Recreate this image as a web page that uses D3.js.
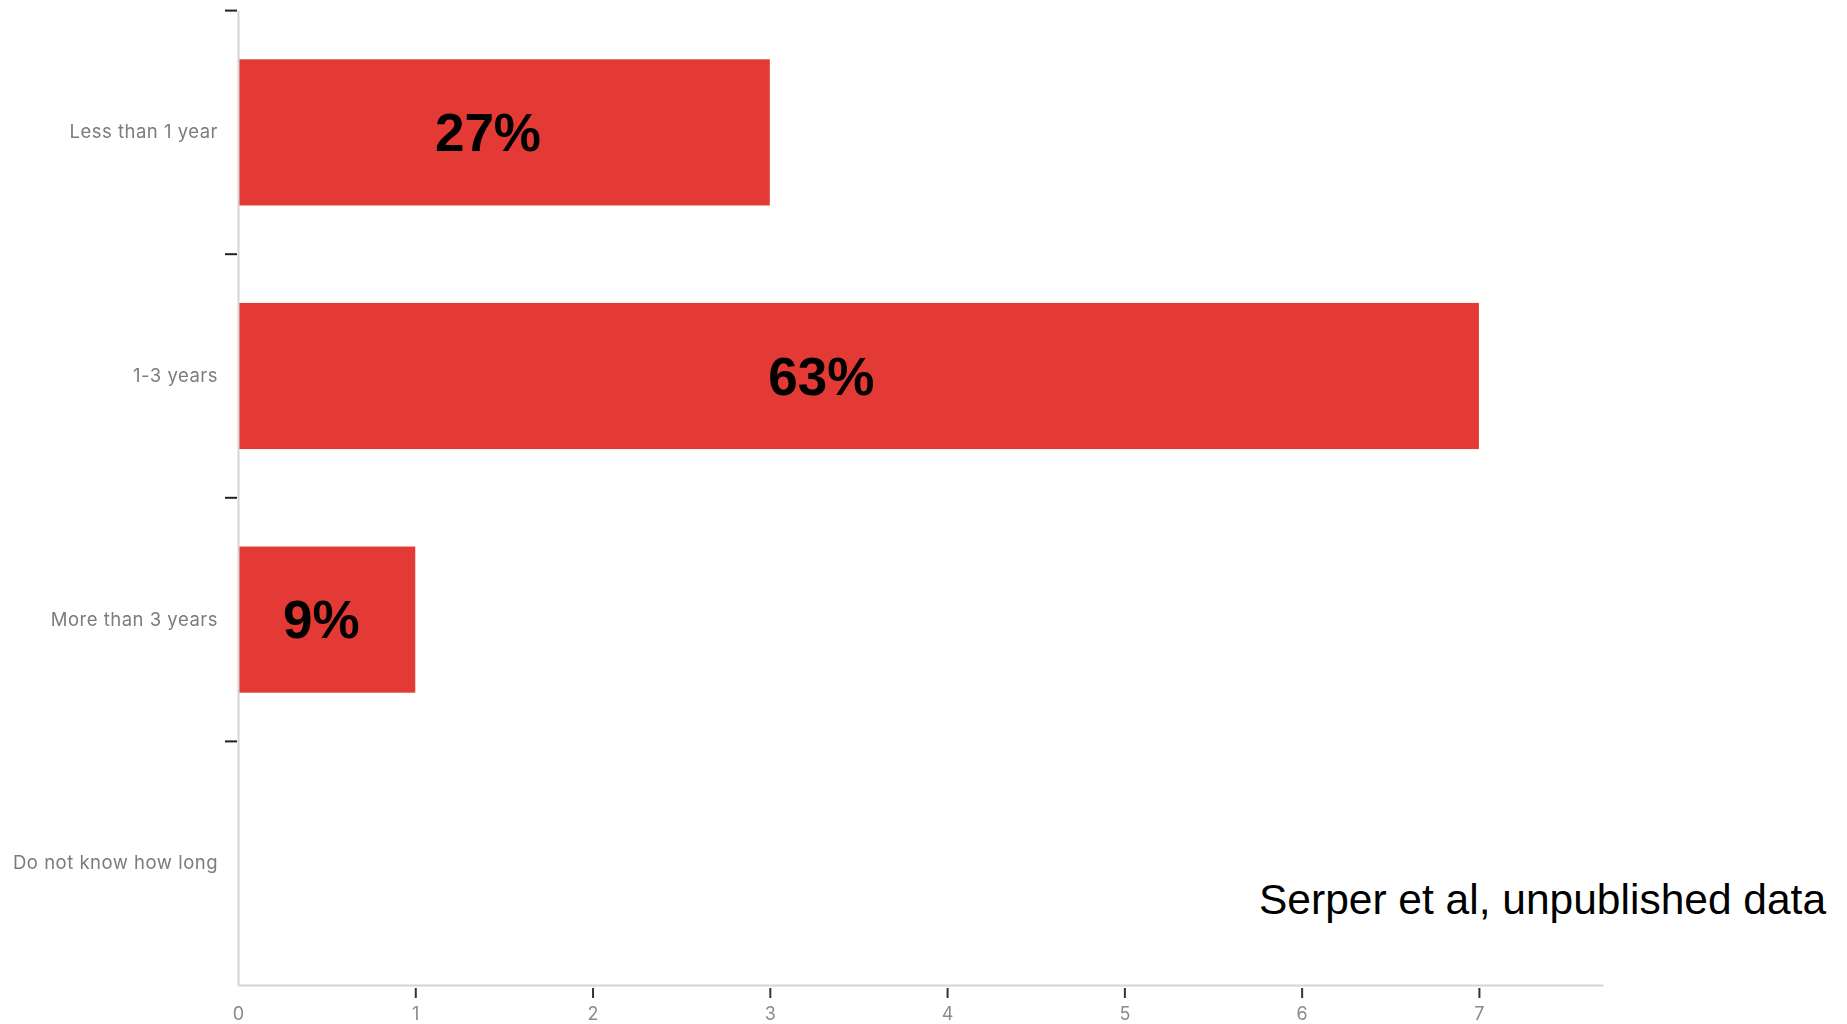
<!DOCTYPE html>
<html>
<head>
<meta charset="utf-8">
<script src="https://cdn.jsdelivr.net/npm/d3@7"></script>
<style>
  html, body { margin: 0; padding: 0; background: #fff; }
  svg { display: block; }
</style>
</head>
<body>
<svg id="chart" width="1847" height="1024"></svg>
<script>
// Survey responses: how long respondents expect (count of 11 responses)
const categories = ["Less than 1 year", "1-3 years", "More than 3 years", "Do not know how long"];
const counts = [3, 7, 1, 0];
const percentLabels = ["27%", "63%", "9%", ""];
const xTicks = [0, 1, 2, 3, 4, 5, 6, 7];
const sourceNote = "Serper et al, unpublished data";

const svg = d3.select("#chart");

const plot = { left: 238, right: 1603, top: 10.6, bottom: 985 };

const x = d3.scaleLinear().domain([0, 7.7]).range([plot.left, plot.right]);
const y = d3.scaleBand()
  .domain(categories)
  .range([plot.top, plot.bottom])
  .paddingInner(0.4)
  .paddingOuter(0.2);

// soft rendering for the small axis text
const defs = svg.append("defs");
defs.append("filter").attr("id", "soft")
  .append("feGaussianBlur").attr("stdDeviation", 0.55);

// bars
svg.append("g").selectAll("rect")
  .data(categories)
  .join("rect")
  .attr("x", x(0) + 1)
  .attr("y", d => y(d))
  .attr("width", (d, i) => Math.max(0, x(counts[i]) - x(0) - 1))
  .attr("height", y.bandwidth())
  .attr("fill", "#e33a36");

// x axis
const xAxis = svg.append("g")
  .attr("transform", `translate(0,${plot.bottom})`)
  .call(d3.axisBottom(x).tickValues(xTicks).tickFormat(d3.format("d")).tickSize(0).tickPadding(22));
xAxis.select(".domain").attr("stroke", "#d4d4d4").attr("stroke-width", 2);
xAxis.selectAll("text")
  .attr("font-family", "Inter, sans-serif")
  .attr("font-size", 18)
  .attr("fill", "#8a8a8a")
  .attr("filter", "url(#soft)");
xAxis.selectAll(".tick").filter(d => d > 0).append("line")
  .attr("y1", 3).attr("y2", 13)
  .attr("stroke", "#333").attr("stroke-width", 2);

// y axis: line plus ticks at category boundaries
const yAxis = svg.append("g")
  .attr("transform", `translate(${plot.left},0)`)
  .call(d3.axisLeft(y).tickSize(0).tickPadding(20));
yAxis.select(".domain").attr("stroke", "#d4d4d4").attr("stroke-width", 2);
yAxis.selectAll("text")
  .attr("font-family", "Inter, sans-serif")
  .attr("font-size", 18.5)
  .attr("letter-spacing", "0.5px")
  .attr("fill", "#7c7c7c")
  .attr("filter", "url(#soft)");
const gap = (y.step() - y.bandwidth()) / 2;
yAxis.append("g").selectAll("line")
  .data(categories)
  .join("line")
  .attr("x1", -13).attr("x2", -1)
  .attr("y1", d => y(d) - gap)
  .attr("y2", d => y(d) - gap)
  .attr("stroke", "#222").attr("stroke-width", 2);

// value labels, a little left of each bar's middle
svg.append("g").selectAll("text")
  .data(categories)
  .join("text")
  .attr("x", (d, i) => x(counts[i] * 0.47))
  .attr("y", d => y(d) + y.bandwidth() / 2)
  .attr("dy", "0.35em")
  .attr("text-anchor", "middle")
  .attr("font-family", "'Liberation Sans', Arial, sans-serif")
  .attr("font-weight", "bold")
  .attr("font-size", 53)
  .attr("fill", "#000")
  .text((d, i) => percentLabels[i]);

// source note
svg.append("text")
  .attr("x", 1259)
  .attr("y", 914)
  .attr("font-family", "'Liberation Sans', Arial, sans-serif")
  .attr("font-size", 42.5)
  .attr("fill", "#000")
  .text(sourceNote);
</script>
</body>
</html>
